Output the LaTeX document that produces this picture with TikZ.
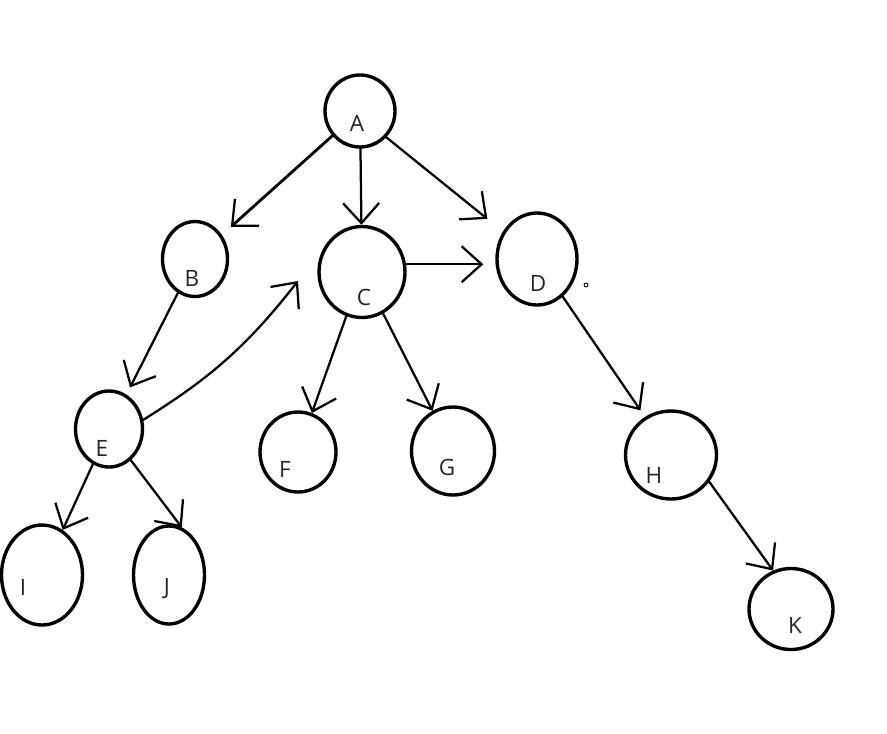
\documentclass[tikz,border=0pt]{standalone}
\usepackage{fontspec}
\setmainfont{Open Sans}
\usetikzlibrary{arrows.meta,shapes.geometric}

\begin{document}
\begin{tikzpicture}[x=0.025cm,y=-0.025cm,
  vtx/.style 2 args={draw,ellipse,line width=2.4pt,inner sep=0pt,
    minimum width=#1*0.025cm,minimum height=#2*0.025cm},
  lbl/.style={font=\fontsize{16}{19}\selectfont,text=black!85},
  edge/.style={line width=1.6pt,line cap=round,
    -{Straight Barb[length=5mm,width=9mm,line width=1.6pt]}}]
  \useasboundingbox (0,0) rectangle (887,733);
  % the vertices
  \node[vtx={70}{72}] (A) at (360,111) {};
  \node[vtx={65}{75}] (B) at (195,259) {};
  \node[vtx={86}{91}] (C) at (362,272) {};
  \node[vtx={80}{92}] (D) at (537,259) {};
  \node[vtx={67}{76}] (E) at (109,429) {};
  \node[vtx={76}{80}] (F) at (298,452) {};
  \node[vtx={83}{88}] (G) at (453,451) {};
  \node[vtx={91}{88}] (H) at (671,455) {};
  \node[vtx={81}{100}] (I) at (42,575) {};
  \node[vtx={71}{98}] (J) at (169,575) {};
  \node[vtx={84}{81}] (K) at (791,609) {};
  % letters, a bit off centre as drawn
  \node[lbl] (lA) at (357,123) {A};
  \node[lbl] (lB) at (192,278) {B};
  \node[lbl] (lC) at (364,297) {C};
  \node[lbl] (lD) at (538,283) {D};
  \node[lbl] (lE) at (102,448) {E};
  \node[lbl] (lF) at (285,469) {F};
  \node[lbl] (lG) at (447,467) {G};
  \node[lbl] (lH) at (654,475) {H};
  \node[lbl] (lI) at (23,587) {I};
  \node[lbl] (lJ) at (167,589) {J};
  \node[lbl] (lK) at (795,625) {K};
  % arrows
  \coordinate (ec) at (298,281);
  \draw[edge,line width=2pt,shorten >=3mm] (A) -- (B);
  \draw[edge] (A) -- (C);
  \draw[edge,shorten >=5mm] (A.-45) -- (D);
  \draw[edge,shorten >=3mm] (C.10) -- (C.10 -| D.west);
  \draw[edge,shorten >=2mm] (B) -- (E);
  \draw[edge] (E.15) to[bend right=10] (ec);
  \draw[edge] (C) -- (F);
  \draw[edge] (C) -- (G);
  \draw[edge,shorten >=2mm] (D) -- (H);
  \draw[edge] (E) -- (I);
  \draw[edge] (E.-55) -- (J.75);
  \draw[edge] (H.-35) -- (K.115);
  \draw[line width=0.6pt] (586,285) circle (2);
\end{tikzpicture}
\end{document}
